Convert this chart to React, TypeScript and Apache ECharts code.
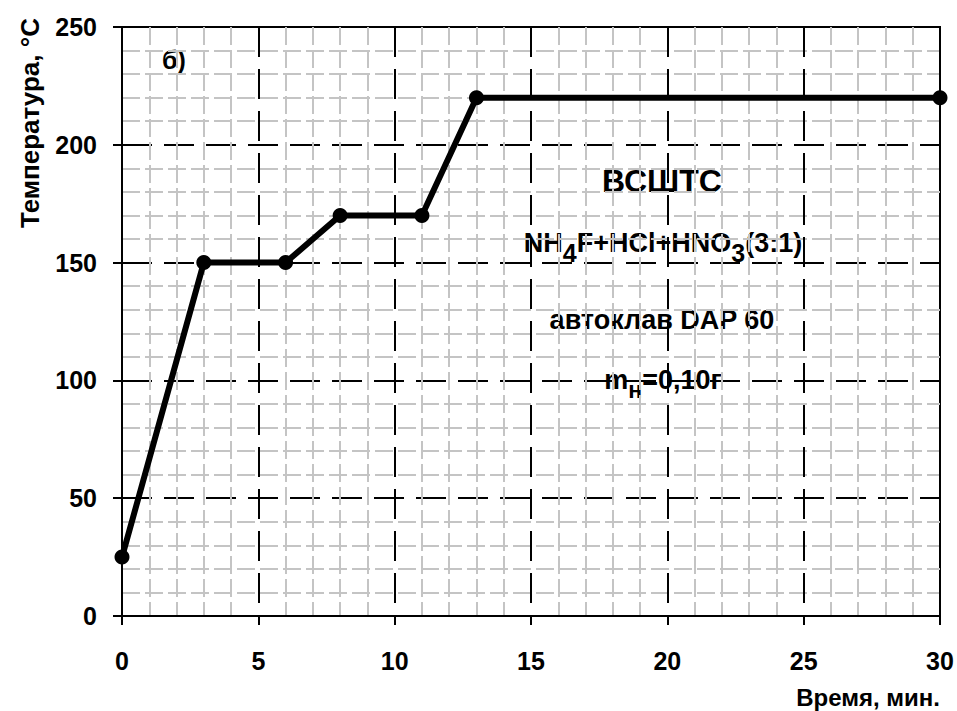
import React, { useEffect, useRef } from "react";
import * as echarts from "echarts";

const timeMin = [0, 3, 6, 8, 11, 13, 30];
const tempC = [25, 150, 150, 170, 170, 220, 220];
const xTicks = { min: 0, max: 30, interval: 5 };
const yTicks = { min: 0, max: 250, interval: 50 };
const yTitle = "Температура, °С";
const xTitle = "Время, мин.";
const panelLabel = "б)";
const noteTitle = "ВСШТС";
const noteAutoclave = "автоклав DAP 60";

const FONT = "Arial, 'Liberation Sans', sans-serif";

export default function App() {
  const ref = useRef<HTMLDivElement>(null);
  useEffect(() => {
    if (!ref.current) return;
    const chart = echarts.init(ref.current, null, { renderer: "svg" });
    const minorLine = { show: true, lineStyle: { color: "#c4c4c4", width: 2, type: [18, 5] as any } };
    const majorLine = { show: true, lineStyle: { color: "#000", width: 2, type: [30, 12] as any } };
    const label = { color: "#000", fontSize: 25, fontWeight: "bold" as const, fontFamily: FONT };
    chart.setOption({
      animation: false,
      backgroundColor: "#fff",
      grid: { left: 122, top: 27, right: 17, bottom: 95, show: true, borderColor: "#000", borderWidth: 2, backgroundColor: "transparent" },
      xAxis: {
        type: "value",
        min: xTicks.min,
        max: xTicks.max,
        interval: xTicks.interval,
        axisLine: { show: true, onZero: false, lineStyle: { color: "#000", width: 2 } },
        axisTick: { show: true, inside: false, length: 9, lineStyle: { color: "#000", width: 2 } },
        axisLabel: { ...label, margin: 32 },
        splitLine: majorLine,
        minorTick: { show: false, splitNumber: 5 },
        minorSplitLine: minorLine,
      },
      yAxis: {
        type: "value",
        min: yTicks.min,
        max: yTicks.max,
        interval: yTicks.interval,
        axisLine: { show: true, onZero: false, lineStyle: { color: "#000", width: 2 } },
        axisTick: { show: true, inside: false, length: 9, lineStyle: { color: "#000", width: 2 } },
        axisLabel: { ...label, margin: 25 },
        splitLine: majorLine,
        minorTick: { show: false, splitNumber: 5 },
        minorSplitLine: minorLine,
      },
      series: [
        {
          type: "line",
          data: timeMin.map((t, i) => [t, tempC[i]]),
          clip: false,
          symbol: "circle",
          symbolSize: 15,
          itemStyle: { color: "#000" },
          lineStyle: { color: "#000", width: 6 },
          z: 5,
        },
      ],
      graphic: [
        {
          type: "text",
          x: 30,
          y: 123,
          rotation: Math.PI / 2,
          style: { text: yTitle, font: `bold 26px ${FONT}`, fill: "#000", align: "center", verticalAlign: "middle" },
        },
        {
          type: "text",
          x: 940,
          y: 697,
          style: { text: xTitle, font: `bold 24px ${FONT}`, fill: "#000", align: "right", verticalAlign: "middle" },
        },
        {
          type: "text",
          x: 162,
          y: 60,
          style: { text: panelLabel, font: `bold 25px ${FONT}`, fill: "#000", align: "left", verticalAlign: "middle" },
        },
        {
          type: "text",
          x: 662,
          y: 181,
          style: { text: noteTitle, font: `bold 32px ${FONT}`, fill: "#000", align: "center", verticalAlign: "middle" },
        },
        {
          type: "text",
          x: 663,
          y: 248,
          style: {
            text: "{a|NH}{s|4}{a|F+HCl+HNO}{s|3}{a|(3:1)}",
            align: "center",
            verticalAlign: "middle",
            rich: {
              a: { fontSize: 27, fontWeight: "bold", fontFamily: FONT, color: "#000", height: 30, verticalAlign: "top" },
              s: { fontSize: 25, fontWeight: "bold", fontFamily: FONT, color: "#000", height: 30, verticalAlign: "top", padding: [10, 0, 0, 0] },
            },
          },
        },
        {
          type: "text",
          x: 662,
          y: 320,
          style: { text: noteAutoclave, font: `bold 27px ${FONT}`, fill: "#000", align: "center", verticalAlign: "middle" },
        },
        {
          type: "text",
          x: 663,
          y: 385,
          style: {
            text: "{a|m}{s|н}{a|=0,10г}",
            align: "center",
            verticalAlign: "middle",
            rich: {
              a: { fontSize: 27, fontWeight: "bold", fontFamily: FONT, color: "#000", height: 30, verticalAlign: "top" },
              s: { fontSize: 23, fontWeight: "bold", fontFamily: FONT, color: "#000", height: 30, verticalAlign: "top", padding: [10, 0, 0, 0] },
            },
          },
        },
      ],
    });
    return () => chart.dispose();
  }, []);
  return <div ref={ref} style={{ position: "fixed", left: 0, top: 0, width: 957, height: 711 }} />;
}
